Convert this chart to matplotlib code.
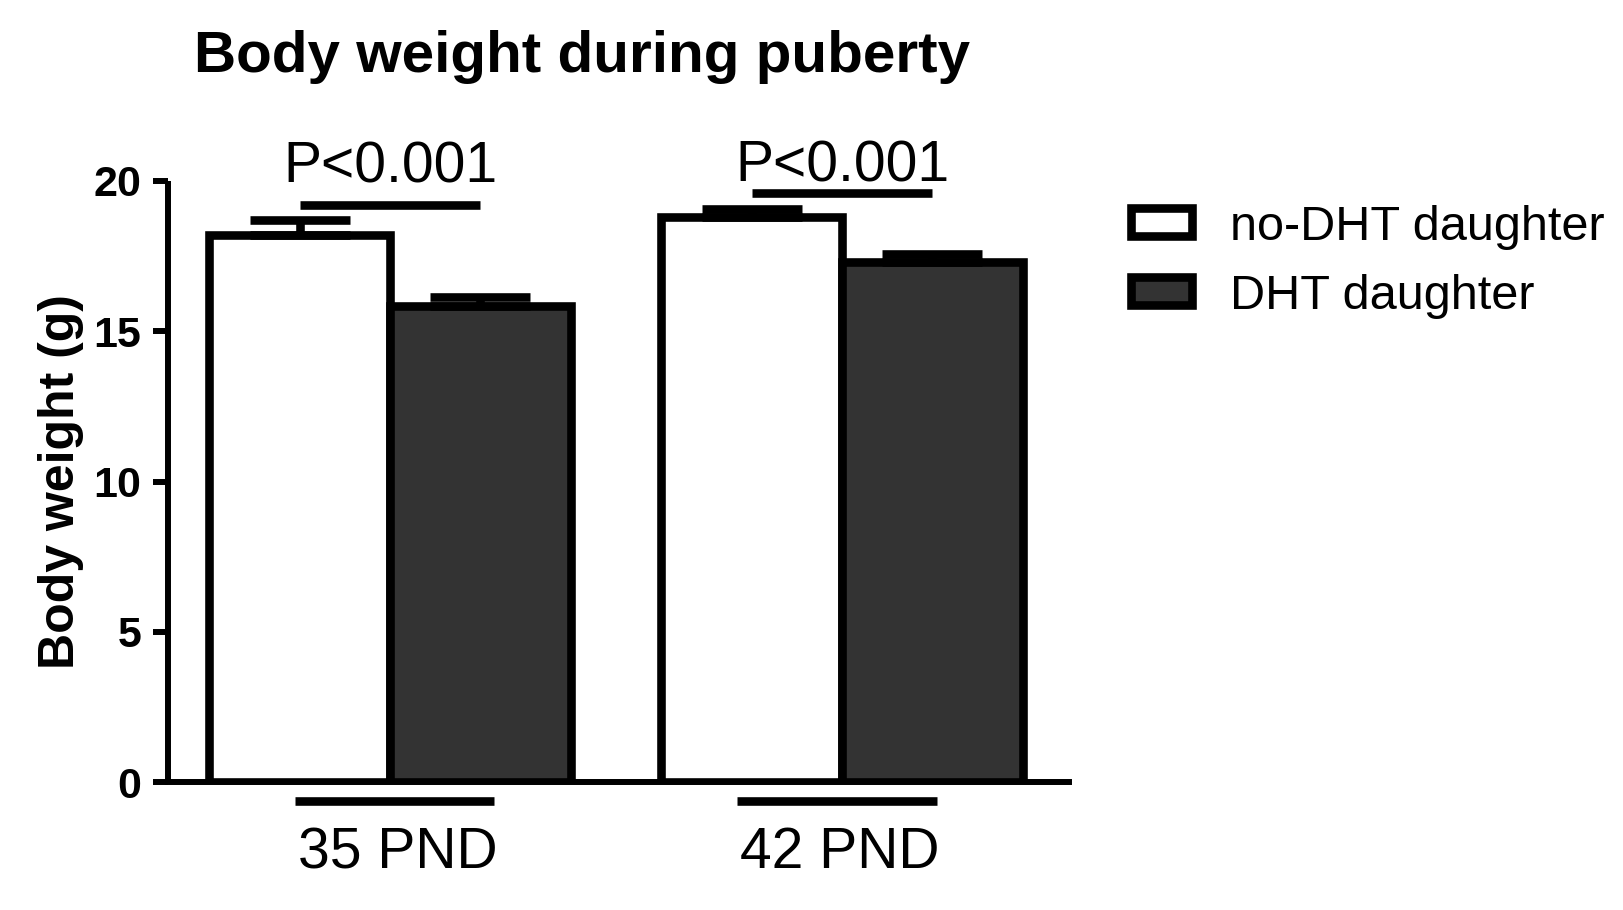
import matplotlib
matplotlib.use("Agg")
import matplotlib.pyplot as plt
from matplotlib.patches import Rectangle
import numpy as np

plt.rcParams['font.family'] = ['Liberation Sans', 'DejaVu Sans']

# ---- data ----
groups = ["35 PND", "42 PND"]
series_names = ["no-DHT daughter", "DHT daughter"]
no_dht_mean = [18.2, 18.8]
no_dht_err = [0.50, 0.27]
dht_mean = [15.85, 17.3]
dht_err = [0.28, 0.26]
p_labels = ["P<0.001", "P<0.001"]
sig_line_y = [19.2, 19.6]
p_text_y = [19.95, 20.0]
yticks = [0, 5, 10, 15, 20]

W, H = 1624, 910
fig = plt.figure(figsize=(W / 100, H / 100), dpi=100)
ax = fig.add_axes([168 / W, 1 - 782 / H, (1069 - 168) / W, (782 - 181) / H])

x = np.arange(len(groups))
bw = 0.4
edge_lw = 6.2
dark = "#333333"

ax.bar(x - bw / 2, no_dht_mean, bw, color="white", edgecolor="black",
       linewidth=edge_lw, zorder=2)
ax.bar(x + bw / 2, dht_mean, bw, color=dark, edgecolor="black",
       linewidth=edge_lw, zorder=2)

ax.errorbar(x - bw / 2, no_dht_mean, yerr=[np.zeros(len(x)), no_dht_err],
            fmt="none", ecolor="black", elinewidth=edge_lw, capsize=36,
            capthick=edge_lw, zorder=3, clip_on=False)
ax.errorbar(x + bw / 2, dht_mean, yerr=[np.zeros(len(x)), dht_err],
            fmt="none", ecolor="black", elinewidth=edge_lw, capsize=36,
            capthick=edge_lw, zorder=3, clip_on=False)

# group underlines below axis (offsets from group centre)
under_left = [-0.211, -0.232]
under_right = [0.231, 0.209]

# significance lines and labels
for i in range(len(groups)):
    ax.plot([x[i] - bw / 2, x[i] + bw / 2], [sig_line_y[i]] * 2, color="black",
            lw=edge_lw, solid_capstyle="butt", clip_on=False, zorder=4)
    ax.text(x[i], p_text_y[i], p_labels[i], ha="center", va="baseline",
            fontsize=41, color="black")
    ax.plot([x[i] + under_left[i], x[i] + under_right[i]], [-0.62, -0.62],
            color="black", lw=edge_lw, solid_capstyle="butt", clip_on=False,
            zorder=4)

ax.set_xlim(-0.491, 1.502)
ax.set_ylim(0, 20)
ax.set_yticks(yticks)
ax.set_yticklabels([str(t) for t in yticks], fontsize=31, fontweight="bold")
ax.set_xticks(x + np.array([0.018, -0.004]))
ax.set_xticklabels(groups, fontsize=41)
ax.tick_params(axis="x", length=0, pad=32)
ax.tick_params(axis="y", length=11, width=4.3, pad=8)

for s in ["top", "right"]:
    ax.spines[s].set_visible(False)
for s in ["left", "bottom"]:
    ax.spines[s].set_linewidth(4.3)
ax.spines["left"].set_capstyle("butt")

ax.set_ylabel("Body weight (g)", fontsize=36, fontweight="bold")
ax.yaxis.set_label_coords(-(168 - 84) / (1069 - 168), 0.5)

fig.text(582 / W, 1 - 72 / H, "Body weight during puberty", ha="center",
         va="baseline", fontsize=42, fontweight="bold")

# legend (manual)
leg_colors = ["white", dark]
leg_base = [240, 309]
for i, name in enumerate(series_names):
    yb = leg_base[i]
    rect = Rectangle((1131 / W, 1 - (yb - 4) / H), 61 / W, 28 / H,
                     transform=fig.transFigure, facecolor=leg_colors[i],
                     edgecolor="black", linewidth=6.2)
    fig.add_artist(rect)
    fig.text(1230 / W, 1 - yb / H, name, ha="left", va="baseline", fontsize=35)

fig.savefig("out.png", dpi=100)
